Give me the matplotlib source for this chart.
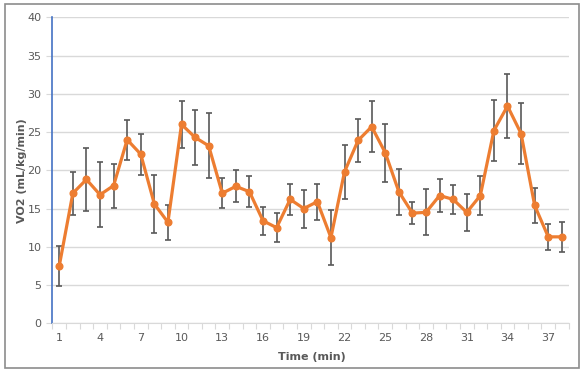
import numpy as np
import matplotlib.pyplot as plt
from matplotlib.patches import Rectangle

# VO2 moyen par minute, avec écart-type
minutes = list(range(1, 39))
vo2 = [7.5, 17.0, 18.8, 16.8, 18.0, 24.0, 22.1, 15.6, 13.2, 26.0,
       24.3, 23.2, 17.0, 17.9, 17.2, 13.4, 12.5, 16.2, 15.0, 15.9,
       11.2, 19.8, 23.9, 25.7, 22.3, 17.2, 14.4, 14.5, 16.7, 16.2,
       14.5, 16.7, 25.2, 28.4, 24.8, 15.4, 11.3, 11.3]
sd = [2.65, 2.8, 4.1, 4.25, 2.87, 2.63, 2.65, 3.83, 2.26, 3.09,
      3.6, 4.23, 1.94, 2.08, 2.02, 1.85, 1.87, 2.05, 2.48, 2.37,
      3.57, 3.52, 2.87, 3.35, 3.78, 3.02, 1.43, 3.02, 2.2, 1.87,
      2.43, 2.6, 3.98, 4.24, 4.03, 2.35, 1.72, 2.0]
xtick_vals = list(range(1, 39, 3))

fig = plt.figure(figsize=(5.85, 3.73), dpi=100)
ax = fig.add_axes([0.0897, 0.1333, 0.8823, 0.8203])

ax.errorbar(minutes, vo2, yerr=sd, fmt='none', ecolor='#595959',
            elinewidth=1.2, capsize=2.5, capthick=1.2, zorder=2)
ax.plot(minutes, vo2, color='#ed7d31', lw=2.3, marker='o', ms=4.8, zorder=3)

ax.set_xlim(0.5, 38.5)
ax.set_ylim(0, 40)
ax.set_yticks(range(0, 41, 5))
ax.set_xticks(xtick_vals)
ax.set_xticks(np.arange(0.5, 39, 1), minor=True)
ax.tick_params(axis='x', which='major', length=0, pad=7, labelsize=8, labelcolor='#595959')
ax.tick_params(axis='x', which='minor', length=4, color='#d9d9d9', width=0.8)
ax.tick_params(axis='y', length=4, color='#d9d9d9', labelsize=8, labelcolor='#595959', pad=4)

ax.grid(axis='y', color='#d9d9d9', lw=1)
ax.set_axisbelow(True)
for s in ['top', 'right']:
    ax.spines[s].set_visible(False)
ax.spines['left'].set_color('#4472c4')
ax.spines['left'].set_linewidth(1.2)
ax.spines['bottom'].set_color('#d9d9d9')

ax.set_xlabel('Time (min)', fontsize=8, fontweight='bold', color='#595959')
ax.set_ylabel('VO2 (mL/kg/min)', fontsize=8, fontweight='bold', color='#595959')
ax.xaxis.set_label_coords(0.5 + (315 - 314) / 516, -0.094)
ax.yaxis.set_label_coords(-0.049, 0.5)

fig.patches.append(Rectangle((5 / 585, 5 / 373), 574 / 585, 364 / 373, transform=fig.transFigure,
                             fill=False, edgecolor='#8c8c8c', lw=1.2))

fig.savefig('out.png', dpi=100)
